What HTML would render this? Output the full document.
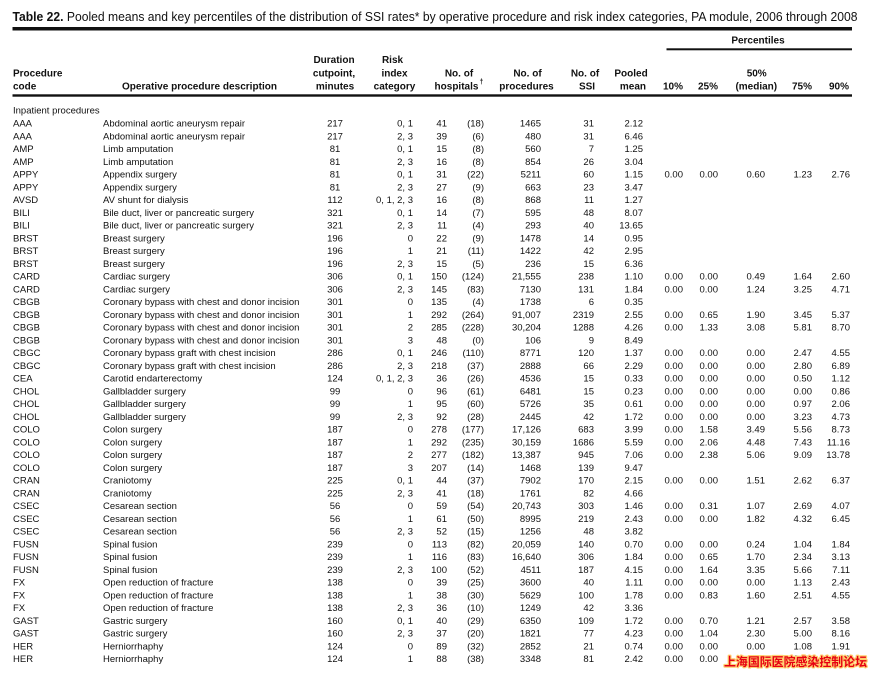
<!DOCTYPE html>
<html>
<head>
<meta charset="utf-8">
<style>
  html,body{margin:0;padding:0;background:#fff;}
  body{width:872px;height:674px;overflow:hidden;}
  svg{display:block;font-family:"Liberation Sans","Noto Sans CJK SC",sans-serif;}
  text{fill:#111;font-size:9.5px;}
  .e{text-anchor:end;}
  .m{text-anchor:middle;}
  .h{font-weight:bold;font-size:10px;}
  .wm{font-family:"Liberation Sans","Noto Sans CJK SC",sans-serif;font-size:12px;font-weight:bold;fill:#e60012;stroke:#ffcf70;stroke-width:2.4px;paint-order:stroke;stroke-linejoin:round;}
</style>
</head>
<body>
<svg width="872" height="674" viewBox="0 0 872 674" xmlns="http://www.w3.org/2000/svg">
<rect x="0" y="0" width="872" height="674" fill="#fff"/>

<!-- Title -->
<text x="12.5" y="21.2" style="font-size:13px" textLength="845" lengthAdjust="spacingAndGlyphs"><tspan font-weight="bold">Table 22.</tspan> Pooled means and key percentiles of the distribution of SSI rates* by operative procedure and risk index categories, PA module, 2006 through 2008</text>

<!-- Rules -->
<rect x="12.5" y="27" width="839.5" height="3.5" fill="#111"/>
<rect x="666.5" y="48.3" width="185.5" height="2" fill="#111"/>
<rect x="12.5" y="94.3" width="839.5" height="2.4" fill="#111"/>

<!-- Header -->
<text class="h m" x="758" y="43.6">Percentiles</text>
<text class="h" x="13" y="76.3">Procedure</text>
<text class="h" x="13" y="89.6">code</text>
<text class="h" x="122" y="89.6" textLength="155" lengthAdjust="spacingAndGlyphs">Operative procedure description</text>
<text class="h m" x="334" y="63">Duration</text>
<text class="h m" x="334" y="76.3">cutpoint,</text>
<text class="h m" x="335" y="89.6">minutes</text>
<text class="h m" x="392.5" y="63">Risk</text>
<text class="h m" x="394.5" y="76.3">index</text>
<text class="h m" x="394.5" y="89.6">category</text>
<text class="h m" x="459" y="76.3">No. of</text>
<text class="h m" x="456.5" y="89.6">hospitals</text>
<text x="479.5" y="84" style="font-size:7px;font-weight:bold">†</text>
<text class="h m" x="527.5" y="76.3">No. of</text>
<text class="h m" x="526.5" y="89.6">procedures</text>
<text class="h m" x="585" y="76.3">No. of</text>
<text class="h m" x="587" y="89.6">SSI</text>
<text class="h e" x="647.7" y="76.3">Pooled</text>
<text class="h e" x="646" y="89.6">mean</text>
<text class="h e" x="683" y="89.6">10%</text>
<text class="h e" x="718" y="89.6">25%</text>
<text class="h m" x="756.7" y="76.3">50%</text>
<text class="h m" x="756.3" y="89.6">(median)</text>
<text class="h e" x="812" y="89.6">75%</text>
<text class="h e" x="849" y="89.6">90%</text>

<text x="13" y="113.3">Inpatient procedures</text>

<!-- Rows -->
<g transform="translate(0,126.5)"><text x="13">AAA</text><text x="103">Abdominal aortic aneurysm repair</text><text class="m" x="335">217</text><text class="e" x="413">0, 1</text><text class="e" x="447">41</text><text class="e" x="484">(18)</text><text class="e" x="541">1465</text><text class="e" x="594">31</text><text class="e" x="643">2.12</text></g>
<g transform="translate(0,139.25)"><text x="13">AAA</text><text x="103">Abdominal aortic aneurysm repair</text><text class="m" x="335">217</text><text class="e" x="413">2, 3</text><text class="e" x="447">39</text><text class="e" x="484">(6)</text><text class="e" x="541">480</text><text class="e" x="594">31</text><text class="e" x="643">6.46</text></g>
<g transform="translate(0,152)"><text x="13">AMP</text><text x="103">Limb amputation</text><text class="m" x="335">81</text><text class="e" x="413">0, 1</text><text class="e" x="447">15</text><text class="e" x="484">(8)</text><text class="e" x="541">560</text><text class="e" x="594">7</text><text class="e" x="643">1.25</text></g>
<g transform="translate(0,164.75)"><text x="13">AMP</text><text x="103">Limb amputation</text><text class="m" x="335">81</text><text class="e" x="413">2, 3</text><text class="e" x="447">16</text><text class="e" x="484">(8)</text><text class="e" x="541">854</text><text class="e" x="594">26</text><text class="e" x="643">3.04</text></g>
<g transform="translate(0,177.5)"><text x="13">APPY</text><text x="103">Appendix surgery</text><text class="m" x="335">81</text><text class="e" x="413">0, 1</text><text class="e" x="447">31</text><text class="e" x="484">(22)</text><text class="e" x="541">5211</text><text class="e" x="594">60</text><text class="e" x="643">1.15</text><text class="e" x="683">0.00</text><text class="e" x="718">0.00</text><text class="e" x="765">0.60</text><text class="e" x="812">1.23</text><text class="e" x="850">2.76</text></g>
<g transform="translate(0,190.25)"><text x="13">APPY</text><text x="103">Appendix surgery</text><text class="m" x="335">81</text><text class="e" x="413">2, 3</text><text class="e" x="447">27</text><text class="e" x="484">(9)</text><text class="e" x="541">663</text><text class="e" x="594">23</text><text class="e" x="643">3.47</text></g>
<g transform="translate(0,203)"><text x="13">AVSD</text><text x="103">AV shunt for dialysis</text><text class="m" x="335">112</text><text class="e" x="413">0, 1, 2, 3</text><text class="e" x="447">16</text><text class="e" x="484">(8)</text><text class="e" x="541">868</text><text class="e" x="594">11</text><text class="e" x="643">1.27</text></g>
<g transform="translate(0,215.75)"><text x="13">BILI</text><text x="103">Bile duct, liver or pancreatic surgery</text><text class="m" x="335">321</text><text class="e" x="413">0, 1</text><text class="e" x="447">14</text><text class="e" x="484">(7)</text><text class="e" x="541">595</text><text class="e" x="594">48</text><text class="e" x="643">8.07</text></g>
<g transform="translate(0,228.5)"><text x="13">BILI</text><text x="103">Bile duct, liver or pancreatic surgery</text><text class="m" x="335">321</text><text class="e" x="413">2, 3</text><text class="e" x="447">11</text><text class="e" x="484">(4)</text><text class="e" x="541">293</text><text class="e" x="594">40</text><text class="e" x="643">13.65</text></g>
<g transform="translate(0,241.25)"><text x="13">BRST</text><text x="103">Breast surgery</text><text class="m" x="335">196</text><text class="e" x="413">0</text><text class="e" x="447">22</text><text class="e" x="484">(9)</text><text class="e" x="541">1478</text><text class="e" x="594">14</text><text class="e" x="643">0.95</text></g>
<g transform="translate(0,254)"><text x="13">BRST</text><text x="103">Breast surgery</text><text class="m" x="335">196</text><text class="e" x="413">1</text><text class="e" x="447">21</text><text class="e" x="484">(11)</text><text class="e" x="541">1422</text><text class="e" x="594">42</text><text class="e" x="643">2.95</text></g>
<g transform="translate(0,266.75)"><text x="13">BRST</text><text x="103">Breast surgery</text><text class="m" x="335">196</text><text class="e" x="413">2, 3</text><text class="e" x="447">15</text><text class="e" x="484">(5)</text><text class="e" x="541">236</text><text class="e" x="594">15</text><text class="e" x="643">6.36</text></g>
<g transform="translate(0,279.5)"><text x="13">CARD</text><text x="103">Cardiac surgery</text><text class="m" x="335">306</text><text class="e" x="413">0, 1</text><text class="e" x="447">150</text><text class="e" x="484">(124)</text><text class="e" x="541">21,555</text><text class="e" x="594">238</text><text class="e" x="643">1.10</text><text class="e" x="683">0.00</text><text class="e" x="718">0.00</text><text class="e" x="765">0.49</text><text class="e" x="812">1.64</text><text class="e" x="850">2.60</text></g>
<g transform="translate(0,292.25)"><text x="13">CARD</text><text x="103">Cardiac surgery</text><text class="m" x="335">306</text><text class="e" x="413">2, 3</text><text class="e" x="447">145</text><text class="e" x="484">(83)</text><text class="e" x="541">7130</text><text class="e" x="594">131</text><text class="e" x="643">1.84</text><text class="e" x="683">0.00</text><text class="e" x="718">0.00</text><text class="e" x="765">1.24</text><text class="e" x="812">3.25</text><text class="e" x="850">4.71</text></g>
<g transform="translate(0,305)"><text x="13">CBGB</text><text x="103">Coronary bypass with chest and donor incision</text><text class="m" x="335">301</text><text class="e" x="413">0</text><text class="e" x="447">135</text><text class="e" x="484">(4)</text><text class="e" x="541">1738</text><text class="e" x="594">6</text><text class="e" x="643">0.35</text></g>
<g transform="translate(0,317.75)"><text x="13">CBGB</text><text x="103">Coronary bypass with chest and donor incision</text><text class="m" x="335">301</text><text class="e" x="413">1</text><text class="e" x="447">292</text><text class="e" x="484">(264)</text><text class="e" x="541">91,007</text><text class="e" x="594">2319</text><text class="e" x="643">2.55</text><text class="e" x="683">0.00</text><text class="e" x="718">0.65</text><text class="e" x="765">1.90</text><text class="e" x="812">3.45</text><text class="e" x="850">5.37</text></g>
<g transform="translate(0,330.5)"><text x="13">CBGB</text><text x="103">Coronary bypass with chest and donor incision</text><text class="m" x="335">301</text><text class="e" x="413">2</text><text class="e" x="447">285</text><text class="e" x="484">(228)</text><text class="e" x="541">30,204</text><text class="e" x="594">1288</text><text class="e" x="643">4.26</text><text class="e" x="683">0.00</text><text class="e" x="718">1.33</text><text class="e" x="765">3.08</text><text class="e" x="812">5.81</text><text class="e" x="850">8.70</text></g>
<g transform="translate(0,343.25)"><text x="13">CBGB</text><text x="103">Coronary bypass with chest and donor incision</text><text class="m" x="335">301</text><text class="e" x="413">3</text><text class="e" x="447">48</text><text class="e" x="484">(0)</text><text class="e" x="541">106</text><text class="e" x="594">9</text><text class="e" x="643">8.49</text></g>
<g transform="translate(0,356)"><text x="13">CBGC</text><text x="103">Coronary bypass graft with chest incision</text><text class="m" x="335">286</text><text class="e" x="413">0, 1</text><text class="e" x="447">246</text><text class="e" x="484">(110)</text><text class="e" x="541">8771</text><text class="e" x="594">120</text><text class="e" x="643">1.37</text><text class="e" x="683">0.00</text><text class="e" x="718">0.00</text><text class="e" x="765">0.00</text><text class="e" x="812">2.47</text><text class="e" x="850">4.55</text></g>
<g transform="translate(0,368.75)"><text x="13">CBGC</text><text x="103">Coronary bypass graft with chest incision</text><text class="m" x="335">286</text><text class="e" x="413">2, 3</text><text class="e" x="447">218</text><text class="e" x="484">(37)</text><text class="e" x="541">2888</text><text class="e" x="594">66</text><text class="e" x="643">2.29</text><text class="e" x="683">0.00</text><text class="e" x="718">0.00</text><text class="e" x="765">0.00</text><text class="e" x="812">2.80</text><text class="e" x="850">6.89</text></g>
<g transform="translate(0,381.5)"><text x="13">CEA</text><text x="103">Carotid endarterectomy</text><text class="m" x="335">124</text><text class="e" x="413">0, 1, 2, 3</text><text class="e" x="447">36</text><text class="e" x="484">(26)</text><text class="e" x="541">4536</text><text class="e" x="594">15</text><text class="e" x="643">0.33</text><text class="e" x="683">0.00</text><text class="e" x="718">0.00</text><text class="e" x="765">0.00</text><text class="e" x="812">0.50</text><text class="e" x="850">1.12</text></g>
<g transform="translate(0,394.25)"><text x="13">CHOL</text><text x="103">Gallbladder surgery</text><text class="m" x="335">99</text><text class="e" x="413">0</text><text class="e" x="447">96</text><text class="e" x="484">(61)</text><text class="e" x="541">6481</text><text class="e" x="594">15</text><text class="e" x="643">0.23</text><text class="e" x="683">0.00</text><text class="e" x="718">0.00</text><text class="e" x="765">0.00</text><text class="e" x="812">0.00</text><text class="e" x="850">0.86</text></g>
<g transform="translate(0,407)"><text x="13">CHOL</text><text x="103">Gallbladder surgery</text><text class="m" x="335">99</text><text class="e" x="413">1</text><text class="e" x="447">95</text><text class="e" x="484">(60)</text><text class="e" x="541">5726</text><text class="e" x="594">35</text><text class="e" x="643">0.61</text><text class="e" x="683">0.00</text><text class="e" x="718">0.00</text><text class="e" x="765">0.00</text><text class="e" x="812">0.97</text><text class="e" x="850">2.06</text></g>
<g transform="translate(0,419.75)"><text x="13">CHOL</text><text x="103">Gallbladder surgery</text><text class="m" x="335">99</text><text class="e" x="413">2, 3</text><text class="e" x="447">92</text><text class="e" x="484">(28)</text><text class="e" x="541">2445</text><text class="e" x="594">42</text><text class="e" x="643">1.72</text><text class="e" x="683">0.00</text><text class="e" x="718">0.00</text><text class="e" x="765">0.00</text><text class="e" x="812">3.23</text><text class="e" x="850">4.73</text></g>
<g transform="translate(0,432.5)"><text x="13">COLO</text><text x="103">Colon surgery</text><text class="m" x="335">187</text><text class="e" x="413">0</text><text class="e" x="447">278</text><text class="e" x="484">(177)</text><text class="e" x="541">17,126</text><text class="e" x="594">683</text><text class="e" x="643">3.99</text><text class="e" x="683">0.00</text><text class="e" x="718">1.58</text><text class="e" x="765">3.49</text><text class="e" x="812">5.56</text><text class="e" x="850">8.73</text></g>
<g transform="translate(0,445.25)"><text x="13">COLO</text><text x="103">Colon surgery</text><text class="m" x="335">187</text><text class="e" x="413">1</text><text class="e" x="447">292</text><text class="e" x="484">(235)</text><text class="e" x="541">30,159</text><text class="e" x="594">1686</text><text class="e" x="643">5.59</text><text class="e" x="683">0.00</text><text class="e" x="718">2.06</text><text class="e" x="765">4.48</text><text class="e" x="812">7.43</text><text class="e" x="850">11.16</text></g>
<g transform="translate(0,458)"><text x="13">COLO</text><text x="103">Colon surgery</text><text class="m" x="335">187</text><text class="e" x="413">2</text><text class="e" x="447">277</text><text class="e" x="484">(182)</text><text class="e" x="541">13,387</text><text class="e" x="594">945</text><text class="e" x="643">7.06</text><text class="e" x="683">0.00</text><text class="e" x="718">2.38</text><text class="e" x="765">5.06</text><text class="e" x="812">9.09</text><text class="e" x="850">13.78</text></g>
<g transform="translate(0,470.75)"><text x="13">COLO</text><text x="103">Colon surgery</text><text class="m" x="335">187</text><text class="e" x="413">3</text><text class="e" x="447">207</text><text class="e" x="484">(14)</text><text class="e" x="541">1468</text><text class="e" x="594">139</text><text class="e" x="643">9.47</text></g>
<g transform="translate(0,483.5)"><text x="13">CRAN</text><text x="103">Craniotomy</text><text class="m" x="335">225</text><text class="e" x="413">0, 1</text><text class="e" x="447">44</text><text class="e" x="484">(37)</text><text class="e" x="541">7902</text><text class="e" x="594">170</text><text class="e" x="643">2.15</text><text class="e" x="683">0.00</text><text class="e" x="718">0.00</text><text class="e" x="765">1.51</text><text class="e" x="812">2.62</text><text class="e" x="850">6.37</text></g>
<g transform="translate(0,496.25)"><text x="13">CRAN</text><text x="103">Craniotomy</text><text class="m" x="335">225</text><text class="e" x="413">2, 3</text><text class="e" x="447">41</text><text class="e" x="484">(18)</text><text class="e" x="541">1761</text><text class="e" x="594">82</text><text class="e" x="643">4.66</text></g>
<g transform="translate(0,509)"><text x="13">CSEC</text><text x="103">Cesarean section</text><text class="m" x="335">56</text><text class="e" x="413">0</text><text class="e" x="447">59</text><text class="e" x="484">(54)</text><text class="e" x="541">20,743</text><text class="e" x="594">303</text><text class="e" x="643">1.46</text><text class="e" x="683">0.00</text><text class="e" x="718">0.31</text><text class="e" x="765">1.07</text><text class="e" x="812">2.69</text><text class="e" x="850">4.07</text></g>
<g transform="translate(0,521.75)"><text x="13">CSEC</text><text x="103">Cesarean section</text><text class="m" x="335">56</text><text class="e" x="413">1</text><text class="e" x="447">61</text><text class="e" x="484">(50)</text><text class="e" x="541">8995</text><text class="e" x="594">219</text><text class="e" x="643">2.43</text><text class="e" x="683">0.00</text><text class="e" x="718">0.00</text><text class="e" x="765">1.82</text><text class="e" x="812">4.32</text><text class="e" x="850">6.45</text></g>
<g transform="translate(0,534.5)"><text x="13">CSEC</text><text x="103">Cesarean section</text><text class="m" x="335">56</text><text class="e" x="413">2, 3</text><text class="e" x="447">52</text><text class="e" x="484">(15)</text><text class="e" x="541">1256</text><text class="e" x="594">48</text><text class="e" x="643">3.82</text></g>
<g transform="translate(0,547.25)"><text x="13">FUSN</text><text x="103">Spinal fusion</text><text class="m" x="335">239</text><text class="e" x="413">0</text><text class="e" x="447">113</text><text class="e" x="484">(82)</text><text class="e" x="541">20,059</text><text class="e" x="594">140</text><text class="e" x="643">0.70</text><text class="e" x="683">0.00</text><text class="e" x="718">0.00</text><text class="e" x="765">0.24</text><text class="e" x="812">1.04</text><text class="e" x="850">1.84</text></g>
<g transform="translate(0,560)"><text x="13">FUSN</text><text x="103">Spinal fusion</text><text class="m" x="335">239</text><text class="e" x="413">1</text><text class="e" x="447">116</text><text class="e" x="484">(83)</text><text class="e" x="541">16,640</text><text class="e" x="594">306</text><text class="e" x="643">1.84</text><text class="e" x="683">0.00</text><text class="e" x="718">0.65</text><text class="e" x="765">1.70</text><text class="e" x="812">2.34</text><text class="e" x="850">3.13</text></g>
<g transform="translate(0,572.75)"><text x="13">FUSN</text><text x="103">Spinal fusion</text><text class="m" x="335">239</text><text class="e" x="413">2, 3</text><text class="e" x="447">100</text><text class="e" x="484">(52)</text><text class="e" x="541">4511</text><text class="e" x="594">187</text><text class="e" x="643">4.15</text><text class="e" x="683">0.00</text><text class="e" x="718">1.64</text><text class="e" x="765">3.35</text><text class="e" x="812">5.66</text><text class="e" x="850">7.11</text></g>
<g transform="translate(0,585.5)"><text x="13">FX</text><text x="103">Open reduction of fracture</text><text class="m" x="335">138</text><text class="e" x="413">0</text><text class="e" x="447">39</text><text class="e" x="484">(25)</text><text class="e" x="541">3600</text><text class="e" x="594">40</text><text class="e" x="643">1.11</text><text class="e" x="683">0.00</text><text class="e" x="718">0.00</text><text class="e" x="765">0.00</text><text class="e" x="812">1.13</text><text class="e" x="850">2.43</text></g>
<g transform="translate(0,598.25)"><text x="13">FX</text><text x="103">Open reduction of fracture</text><text class="m" x="335">138</text><text class="e" x="413">1</text><text class="e" x="447">38</text><text class="e" x="484">(30)</text><text class="e" x="541">5629</text><text class="e" x="594">100</text><text class="e" x="643">1.78</text><text class="e" x="683">0.00</text><text class="e" x="718">0.83</text><text class="e" x="765">1.60</text><text class="e" x="812">2.51</text><text class="e" x="850">4.55</text></g>
<g transform="translate(0,611)"><text x="13">FX</text><text x="103">Open reduction of fracture</text><text class="m" x="335">138</text><text class="e" x="413">2, 3</text><text class="e" x="447">36</text><text class="e" x="484">(10)</text><text class="e" x="541">1249</text><text class="e" x="594">42</text><text class="e" x="643">3.36</text></g>
<g transform="translate(0,623.75)"><text x="13">GAST</text><text x="103">Gastric surgery</text><text class="m" x="335">160</text><text class="e" x="413">0, 1</text><text class="e" x="447">40</text><text class="e" x="484">(29)</text><text class="e" x="541">6350</text><text class="e" x="594">109</text><text class="e" x="643">1.72</text><text class="e" x="683">0.00</text><text class="e" x="718">0.70</text><text class="e" x="765">1.21</text><text class="e" x="812">2.57</text><text class="e" x="850">3.58</text></g>
<g transform="translate(0,636.5)"><text x="13">GAST</text><text x="103">Gastric surgery</text><text class="m" x="335">160</text><text class="e" x="413">2, 3</text><text class="e" x="447">37</text><text class="e" x="484">(20)</text><text class="e" x="541">1821</text><text class="e" x="594">77</text><text class="e" x="643">4.23</text><text class="e" x="683">0.00</text><text class="e" x="718">1.04</text><text class="e" x="765">2.30</text><text class="e" x="812">5.00</text><text class="e" x="850">8.16</text></g>
<g transform="translate(0,649.25)"><text x="13">HER</text><text x="103">Herniorrhaphy</text><text class="m" x="335">124</text><text class="e" x="413">0</text><text class="e" x="447">89</text><text class="e" x="484">(32)</text><text class="e" x="541">2852</text><text class="e" x="594">21</text><text class="e" x="643">0.74</text><text class="e" x="683">0.00</text><text class="e" x="718">0.00</text><text class="e" x="765">0.00</text><text class="e" x="812">1.08</text><text class="e" x="850">1.91</text></g>
<g transform="translate(0,662)"><text x="13">HER</text><text x="103">Herniorrhaphy</text><text class="m" x="335">124</text><text class="e" x="413">1</text><text class="e" x="447">88</text><text class="e" x="484">(38)</text><text class="e" x="541">3348</text><text class="e" x="594">81</text><text class="e" x="643">2.42</text><text class="e" x="683">0.00</text><text class="e" x="718">0.00</text><text class="e" x="765">1.38</text><text class="e" x="812">2.45</text><text class="e" x="850">5.03</text></g>

<!-- Watermark -->
<text class="wm" x="724" y="666" textLength="143" lengthAdjust="spacingAndGlyphs">上海国际医院感染控制论坛</text>
</svg>
</body>
</html>
